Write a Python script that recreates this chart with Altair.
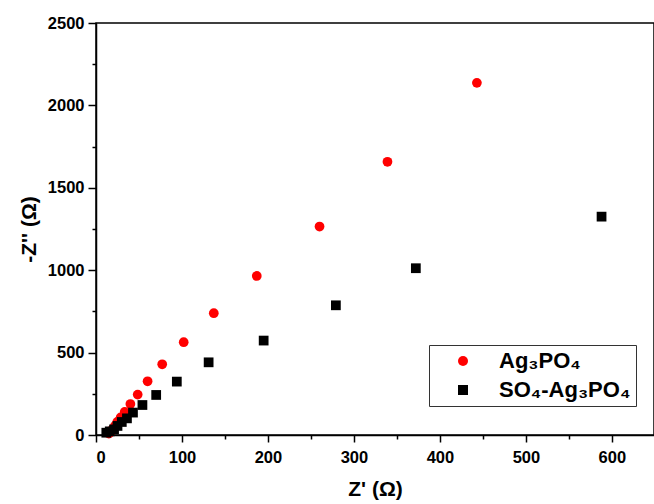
import altair as alt
import pandas as pd

# Ag3PO4 (red circles)
ag_x = [443, 339, 260, 187, 137, 102, 77, 60, 48.5, 40, 33.4, 28.7, 24.8, 22, 19, 17, 15]
ag_y = [2137, 1658, 1265, 965, 739, 563, 429, 326, 245, 188, 140, 107, 79, 55, 32, 18, 9]
# SO4-Ag3PO4 (black squares)
so_x = [588, 372, 279, 195, 131, 94, 70, 54, 43, 36, 30, 25, 21, 16, 12]
so_y = [1325, 1012, 787, 573, 441, 324, 243, 182, 136, 101, 79, 55, 34, 22, 14]

series = ["Ag₃PO₄", "SO₄-Ag₃PO₄"]
colors = ["#ff0000", "#000000"]
shapes = ["circle", "square"]

x_major = [0, 100, 200, 300, 400, 500, 600]
x_minor = [50, 150, 250, 350, 450, 550]
y_major = [0, 500, 1000, 1500, 2000, 2500]
y_minor = [250, 750, 1250, 1750, 2250]

rows = []
for xv, yv in zip(ag_x, ag_y):
    rows.append({"x": xv, "y": yv, "series": series[0]})
for xv, yv in zip(so_x, so_y):
    rows.append({"x": xv, "y": yv, "series": series[1]})
df = pd.DataFrame(rows)
df["order"] = range(len(df))

FONT = "Liberation Sans"
xs = alt.Scale(domain=[0, 649], nice=False, zero=False)
ys = alt.Scale(domain=[0, 2500], nice=False, zero=False)

legend = alt.Legend(
    title=None, orient="none", legendX=333, legendY=322,
    strokeColor="#333333", fillColor="white", padding=5,
    symbolOffset=18, labelOffset=25, rowPadding=7,
    labelFont=FONT, labelFontWeight="bold", labelFontSize=22,
    labelColor="black", symbolSize=100, symbolStrokeWidth=0,
    labelLimit=400,
)

common_axis = dict(
    labelFont=FONT, labelFontWeight="bold", labelFontSize=16.5, labelColor="black",
    titleFont=FONT, titleFontWeight="bold", titleFontSize=21, titleColor="black",
    domainColor="black", domainWidth=1.5, tickColor="black", tickWidth=1.5,
    grid=False, format="d",
)

points = alt.Chart(df).mark_point(filled=True, opacity=1, size=95).encode(
    x=alt.X("x:Q", scale=xs, axis=alt.Axis(
        values=x_major, orient="bottom", title="Z' (Ω)", tickSize=7,
        labelPadding=7, titlePadding=13, **common_axis)),
    y=alt.Y("y:Q", scale=ys, axis=alt.Axis(
        values=y_major, orient="left", title="-Z'' (Ω)", tickSize=8,
        labelPadding=4, titlePadding=8, **common_axis)),
    color=alt.Color("series:N", scale=alt.Scale(domain=series, range=colors), legend=legend),
    shape=alt.Shape("series:N", scale=alt.Scale(domain=series, range=shapes), legend=legend),
    order=alt.Order("order:Q"),
)

minor = alt.Chart(df).mark_point(opacity=0).encode(
    x=alt.X("x:Q", scale=xs, axis=alt.Axis(
        values=x_minor, orient="bottom", title=None, labels=False, domain=False,
        tickSize=4, tickColor="black", tickWidth=1.5, grid=False)),
    y=alt.Y("y:Q", scale=ys, axis=alt.Axis(
        values=y_minor, orient="left", title=None, labels=False, domain=False,
        tickSize=4, tickColor="black", tickWidth=1.5, grid=False)),
)

chart = alt.layer(points, minor).resolve_axis(
    x="independent", y="independent"
).properties(
    width=558, height=412,
    autosize=alt.AutoSizeParams(type="none"),
    padding={"left": 96, "top": 23, "right": 0, "bottom": 69},
    background="white",
).configure_view(stroke="black", strokeWidth=1.5)

chart.save("out.html", embed_options={"renderer": "svg", "actions": False})
